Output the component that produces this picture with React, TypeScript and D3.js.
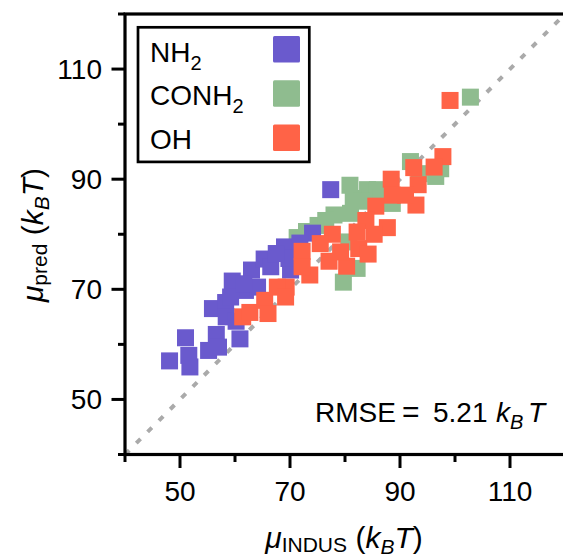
import React from "react";
import * as d3 from "d3";

// ---- data ----
const nh2X = [48.1, 51.0, 51.8, 51.6, 55.2, 56.6, 57.0, 60.9, 55.9, 58.3, 58.4, 59.5, 60.2, 63.0, 65.3, 69.0, 74.1, 70.1, 61.9, 64.1, 66.5, 71.8, 69.8, 77.4, 59.2, 61.6, 67.5];
const nh2Y = [57.0, 61.2, 55.9, 58.0, 58.9, 61.8, 59.5, 61.0, 66.5, 67.6, 65.0, 71.5, 64.2, 73.5, 75.5, 77.7, 80.2, 73.5, 69.8, 70.4, 74.1, 78.4, 75.6, 88.1, 68.6, 71.0, 76.5];

const conh2X = [91.9, 97.4, 80.9, 84.1, 85.9, 81.5, 78.0, 81.0, 75.1, 71.3, 79.7, 82.2, 88.6, 80.7, 102.8, 96.5, 73.0, 76.5, 83.0, 86.5, 93.5];
const conh2Y = [93.2, 91.9, 88.9, 88.1, 88.1, 86.5, 83.5, 83.8, 81.6, 79.4, 71.3, 73.8, 85.6, 78.6, 104.9, 90.5, 80.5, 82.5, 86.0, 86.5, 91.0];

const ohX = [99.1, 97.8, 92.5, 96.2, 93.3, 88.4, 88.6, 92.9, 91.0, 85.6, 83.8, 87.7, 82.2, 85.3, 82.5, 84.2, 77.7, 75.5, 77.1, 80.3, 79.2, 72.2, 73.6, 69.3, 61.4, 62.7, 65.4, 66.0, 67.7, 69.2, 72.2];
const ohY = [104.3, 94.1, 92.1, 92.2, 89.0, 90.0, 87.1, 85.3, 87.1, 85.1, 82.5, 81.2, 80.4, 80.0, 77.4, 76.4, 80.0, 78.3, 75.1, 74.2, 76.8, 76.9, 72.6, 70.4, 65.0, 65.8, 68.0, 65.6, 70.4, 68.6, 74.1];

const majorTicks = [50, 70, 90, 110];
const minorTicks = [40, 60, 80, 100, 120];
const domain = [40, 120];

const COLORS = { nh2: "#6A5ACD", conh2: "#8FBC8F", oh: "#FF6347" };
const FONT = "'Liberation Sans', Arial, Helvetica, sans-serif";

export default function App() {
  const W = 563, H = 559;
  const x = d3.scaleLinear().domain(domain).range([125, 565]);
  const y = d3.scaleLinear().domain(domain).range([454.5, 14]);
  const ms = 17;

  const series = [
    { key: "conh2", xs: conh2X, ys: conh2Y, color: COLORS.conh2 },
    { key: "nh2", xs: nh2X, ys: nh2Y, color: COLORS.nh2 },
    { key: "oh", xs: ohX, ys: ohY, color: COLORS.oh },
  ];

  const diag = d3.line<number>().x((d) => x(d)).y((d) => y(d))(domain) || "";
  const x0 = x(40), y0 = y(40), x1 = x(120), y1 = y(120);

  const legend = [
    { label: "NH", sub: "2", color: COLORS.nh2 },
    { label: "CONH", sub: "2", color: COLORS.conh2 },
    { label: "OH", sub: "", color: COLORS.oh },
  ];

  return (
    <svg width={W} height={H} style={{ position: "absolute", left: 0, top: 0, background: "#fff" }} fontFamily={FONT}>
      <defs>
        <clipPath id="plotclip">
          <rect x={x0} y={y1} width={x1 - x0} height={y0 - y1} />
        </clipPath>
      </defs>
      {/* diagonal */}
      <path d={diag} stroke="#aaaaaa" strokeWidth={4} strokeDasharray="6 10" fill="none" clipPath="url(#plotclip)" />
      {/* points */}
      {series.map((s) =>
        s.xs.map((vx, i) => (
          <rect key={s.key + i} x={x(vx) - ms / 2} y={y(s.ys[i]) - ms / 2} width={ms} height={ms} fill={s.color} />
        ))
      )}
      {/* frame */}
      <rect x={x0} y={y1} width={x1 - x0} height={y0 - y1} fill="none" stroke="#000" strokeWidth={3.2} />
      {/* x ticks */}
      {majorTicks.map((t) => (
        <g key={"xm" + t}>
          <line x1={x(t)} x2={x(t)} y1={y0} y2={y0 + 13.5} stroke="#000" strokeWidth={3} />
          <text x={x(t)} y={501} textAnchor="middle" fontSize={28}>{t}</text>
        </g>
      ))}
      {minorTicks.map((t) => (
        <line key={"xn" + t} x1={x(t)} x2={x(t)} y1={y0} y2={y0 + 7.5} stroke="#000" strokeWidth={3} />
      ))}
      {/* y ticks */}
      {majorTicks.map((t) => (
        <g key={"ym" + t}>
          <line x1={x0} x2={x0 - 13.5} y1={y(t)} y2={y(t)} stroke="#000" strokeWidth={3} />
          <text x={102} y={y(t) + 10} textAnchor="end" fontSize={28}>{t}</text>
        </g>
      ))}
      {minorTicks.map((t) => (
        <line key={"yn" + t} x1={x0} x2={x0 - 7} y1={y(t)} y2={y(t)} stroke="#000" strokeWidth={3} />
      ))}
      {/* legend */}
      <rect x={138} y={27.3} width={171.3} height={134.6} fill="#fff" stroke="#000" strokeWidth={2.7} />
      {legend.map((l, i) => (
        <g key={l.label}>
          <text x={150} y={61.7 + i * 43.7} fontSize={28}>
            {l.label}
            {l.sub && <tspan fontSize={20} dy={8}>{l.sub}</tspan>}
          </text>
          <rect x={273} y={36 + i * 44.3} width={27} height={26.5} rx={1.5} fill={l.color} />
        </g>
      ))}
      {/* RMSE */}
      <text y={421.7} fontSize={28}>
        <tspan x={315}>RMSE</tspan>
        <tspan x={402} fontSize={30} dy={0.7}>=</tspan>
        <tspan x={433} dy={-0.7}>5.21</tspan>
        <tspan x={496} fontStyle="italic">k</tspan>
        <tspan x={510} fontStyle="italic" fontSize={20} dy={7}>B</tspan>
        <tspan x={528} fontStyle="italic" dy={-7}>T</tspan>
      </text>
      {/* x title */}
      <text x={344} y={548} textAnchor="middle" fontSize={30}>
        <tspan fontStyle="italic">μ</tspan>
        <tspan fontSize={21} dy={4}>INDUS</tspan>
        <tspan dy={-4}> (</tspan>
        <tspan fontStyle="italic">k</tspan>
        <tspan fontStyle="italic" fontSize={21} dy={6}>B</tspan>
        <tspan fontStyle="italic" dy={-6}>T</tspan>
        <tspan>)</tspan>
      </text>
      {/* y title */}
      <text transform="translate(43,235) rotate(-90)" textAnchor="middle" fontSize={30}>
        <tspan fontStyle="italic">μ</tspan>
        <tspan fontSize={21} dy={4}>pred</tspan>
        <tspan dy={-4}> (</tspan>
        <tspan fontStyle="italic">k</tspan>
        <tspan fontStyle="italic" fontSize={21} dy={6}>B</tspan>
        <tspan fontStyle="italic" dy={-6}>T</tspan>
        <tspan>)</tspan>
      </text>
    </svg>
  );
}
